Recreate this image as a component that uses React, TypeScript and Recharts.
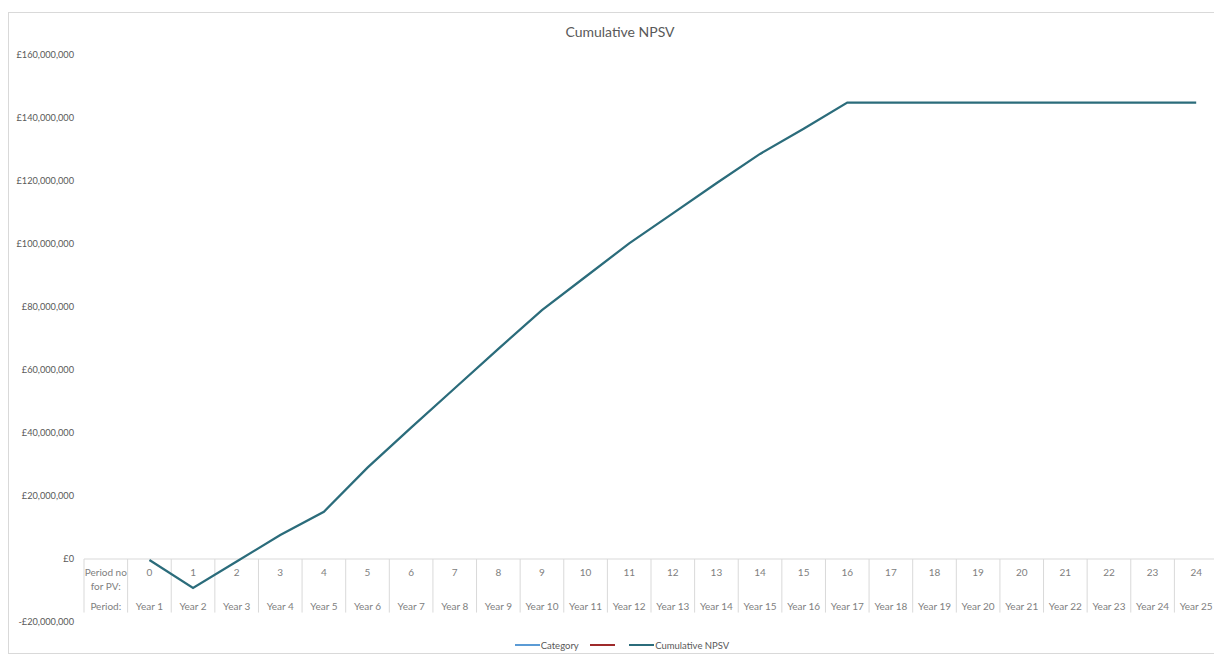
import React from 'react';
import { LineChart, Line, XAxis, YAxis, ReferenceLine, ReferenceDot, Legend } from 'recharts';

const periodNos = ['0','1','2','3','4','5','6','7','8','9','10','11','12','13','14','15','16','17','18','19','20','21','22','23','24'];
const periods = ['Year 1','Year 2','Year 3','Year 4','Year 5','Year 6','Year 7','Year 8','Year 9','Year 10','Year 11','Year 12','Year 13','Year 14','Year 15','Year 16','Year 17','Year 18','Year 19','Year 20','Year 21','Year 22','Year 23','Year 24','Year 25'];
const cumulativeNpsv = [
  -300000, -9200000, -800000, 7600000, 15000000, 29000000, 41700000, 54200000,
  66700000, 79000000, 89600000, 100200000, 109700000, 119300000, 128600000, 136600000,
  144900000, 144900000, 144900000, 144900000, 144900000, 144900000, 144900000, 144900000, 144900000,
];
const yTicks = [-20000000, 0, 20000000, 40000000, 60000000, 80000000, 100000000, 120000000, 140000000, 160000000];
const headerRow1 = ['Period no', 'for PV:'];
const headerRow2 = 'Period:';
const tableBottomValue = -17000000;
const legendOrder = ['category', 'series2', 'npsv'];

const data = periods.map((p, i) => ({ idx: i + 1, period: p, pv: periodNos[i], npsv: cumulativeNpsv[i] }));

const FONT = 'Lato, "Open Sans", sans-serif';
const GRID = '#d9d9d9';
const TEXT = '#595959';
const CELL_TEXT = '#808080';
const TEAL = '#2B6C7B';

const fmt = (v: number) => {
  const s = Math.abs(v).toLocaleString('en-GB');
  return (v < 0 ? '-£' : '£') + s;
};

const boundaries = Array.from({ length: periods.length + 2 }, (_, i) => i - 0.5);

const renderLegend = (props: any) => {
  const items = [...(props.payload || [])].sort(
    (a: any, b: any) => legendOrder.indexOf(a.dataKey) - legendOrder.indexOf(b.dataKey)
  );
  return (
    <div style={{ height: 31, display: 'flex', justifyContent: 'center', alignItems: 'flex-end', paddingLeft: 28, paddingBottom: 1, boxSizing: 'border-box', fontFamily: FONT, fontSize: 9.5, color: TEXT }}>
      {items.map((it: any, i: number) => (
        <div key={i} style={{ display: 'flex', alignItems: 'center', height: 14, marginRight: 11 }}>
          <span style={{ display: 'inline-block', width: 25, height: 2.5, background: it.color }} />
          <span style={{ marginLeft: 1, whiteSpace: 'pre' }}>{it.value}</span>
        </div>
      ))}
    </div>
  );
};

const makeCell = (top: string[], bottom: string) => (p: any) => (
  <g>
    {top.map((t, j) => (
      <text key={j} x={p.cx} y={p.cy + 13 + j * 14} textAnchor="middle" dominantBaseline="central" fontSize={10} fontFamily={FONT} fill={CELL_TEXT}>{t}</text>
    ))}
    <text x={p.cx} y={p.cy + 47} textAnchor="middle" dominantBaseline="central" fontSize={10} fontFamily={FONT} fill={CELL_TEXT}>{bottom}</text>
  </g>
);

export default function App() {
  return (
    <div style={{ paddingTop: 4 }}>
      <div style={{ position: 'relative', width: 1213, height: 642, boxSizing: 'border-box', border: `1px solid ${GRID}`, background: '#fff' }}>
        <div style={{ position: 'absolute', left: 0, top: 10, width: 1211, paddingLeft: 11, boxSizing: 'border-box', textAlign: 'center', fontFamily: FONT, fontSize: 14, lineHeight: '18px', color: TEXT }}>
          Cumulative NPSV
        </div>
        <LineChart width={1211} height={640} data={data} margin={{ top: 42, right: 2, left: 0, bottom: 0 }}>
          <XAxis dataKey="idx" type="number" domain={[-0.5, 25.5]} hide />
          <YAxis
            type="number"
            domain={[-20000000, 160000000]}
            ticks={yTicks}
            width={75}
            axisLine={false}
            tickLine={false}
            tickSize={0}
            tickMargin={10}
            tickFormatter={fmt}
            tick={{ fill: TEXT, fontSize: 9.2, fontFamily: FONT }}
          />
          <ReferenceLine segment={[{ x: -0.5, y: 0 }, { x: 25.5, y: 0 }]} stroke={GRID} strokeWidth={1} />
          {boundaries.map((b) => (
            <ReferenceLine key={b} segment={[{ x: b, y: 0 }, { x: b, y: tableBottomValue }]} stroke={GRID} strokeWidth={1} />
          ))}
          <ReferenceDot x={0} y={0} r={0} fill="none" stroke="none" shape={makeCell(headerRow1, headerRow2)} />
          {data.map((d) => (
            <ReferenceDot key={d.idx} x={d.idx} y={0} r={0} fill="none" stroke="none" shape={makeCell([d.pv], d.period)} />
          ))}
          <Legend verticalAlign="bottom" content={renderLegend} />
          <Line dataKey="category" name="Category" stroke="#5B9BD5" strokeWidth={2.25} dot={false} isAnimationActive={false} />
          <Line dataKey="series2" name=" " stroke="#9E2A2B" strokeWidth={2.25} dot={false} isAnimationActive={false} />
          <Line dataKey="npsv" name="Cumulative NPSV" type="linear" stroke={TEAL} strokeWidth={2.25} dot={false} isAnimationActive={false} />
        </LineChart>
      </div>
    </div>
  );
}
